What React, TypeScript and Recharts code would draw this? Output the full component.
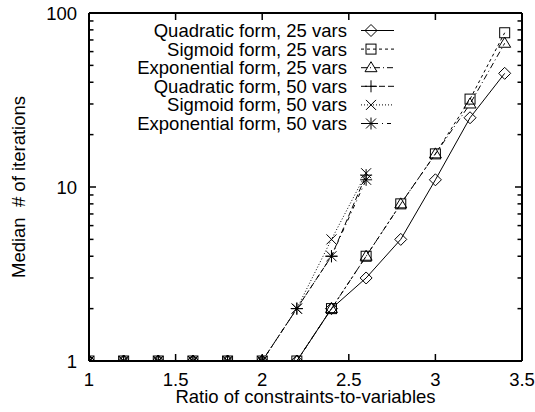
import React from 'react';
import { LineChart, Line, XAxis, YAxis, Legend, ReferenceLine } from 'recharts';

const ratios = [1, 1.2, 1.4, 1.6, 1.8, 2.0, 2.2, 2.4, 2.6, 2.8, 3.0, 3.2, 3.4];
const quad25 = [1, 1, 1, 1, 1, 1, 1, 2, 3, 5, 11, 25, 45];
const sig25 = [1, 1, 1, 1, 1, 1, 1, 2, 4, 8, 15.5, 32, 77];
const exp25 = [1, 1, 1, 1, 1, 1, 1, 2, 4, 8, 15.5, 30, 67];
const quad50 = [1, 1, 1, 1, 1, 1, 2, 4, 11.7];
const sig50 = [1, 1, 1, 1, 1, 1, 2, 5, 12];
const exp50 = [1, 1, 1, 1, 1, 1, 2, 4, 11];

const xTicks = [1, 1.5, 2, 2.5, 3, 3.5];
const yTicks = [1, 10, 100];
const yMinorTicks = [2, 3, 4, 5, 6, 7, 8, 9, 20, 30, 40, 50, 60, 70, 80, 90];

const X_MIN = 1;
const X_MAX = 3.5;
const Y_MIN = 1;
const Y_MAX = 100;

const MARGIN = { top: 13, right: 13, bottom: 0, left: 0 };

const FONT = '"Liberation Sans", Arial, Helvetica, sans-serif';
const FS = 18.5;

type Shape = 'diamond' | 'square' | 'triangle' | 'plus' | 'cross' | 'star';

const series: { key: string; name: string; values: number[]; dash?: string; shape: Shape }[] = [
  { key: 'q25', name: 'Quadratic form, 25 vars', values: quad25, dash: undefined, shape: 'diamond' },
  { key: 's25', name: 'Sigmoid form, 25 vars', values: sig25, dash: '3 3', shape: 'square' },
  { key: 'e25', name: 'Exponential form, 25 vars', values: exp25, dash: '6 3 1 3', shape: 'triangle' },
  { key: 'q50', name: 'Quadratic form, 50 vars', values: quad50, dash: '6 3', shape: 'plus' },
  { key: 's50', name: 'Sigmoid form, 50 vars', values: sig50, dash: '1 2', shape: 'cross' },
  { key: 'e50', name: 'Exponential form, 50 vars', values: exp50, dash: '4 4 1 4', shape: 'star' },
];

const data = ratios.map((r, i) => {
  const row: Record<string, number | undefined> = { ratio: r };
  series.forEach((s) => {
    row[s.key] = s.values[i];
  });
  return row;
});

const Marker = ({ shape, cx, cy }: { shape: Shape; cx: number; cy: number }) => {
  const p = { stroke: '#000', strokeWidth: 1, fill: 'none' };
  switch (shape) {
    case 'diamond':
      return <polygon {...p} points={`${cx},${cy - 6} ${cx + 6},${cy} ${cx},${cy + 6} ${cx - 6},${cy}`} />;
    case 'square':
      return <rect {...p} x={cx - 5} y={cy - 5} width={10} height={10} />;
    case 'triangle':
      return <polygon {...p} points={`${cx},${cy - 6} ${cx + 6},${cy + 4} ${cx - 6},${cy + 4}`} />;
    case 'plus':
      return (
        <g {...p}>
          <line x1={cx - 6} x2={cx + 6} y1={cy} y2={cy} />
          <line x1={cx} x2={cx} y1={cy - 6} y2={cy + 6} />
        </g>
      );
    case 'cross':
      return (
        <g {...p}>
          <line x1={cx - 5} x2={cx + 5} y1={cy - 5} y2={cy + 5} />
          <line x1={cx - 5} x2={cx + 5} y1={cy + 5} y2={cy - 5} />
        </g>
      );
    case 'star':
    default:
      return (
        <g {...p}>
          <line x1={cx - 6} x2={cx + 6} y1={cy} y2={cy} />
          <line x1={cx} x2={cx} y1={cy - 6} y2={cy + 6} />
          <line x1={cx - 5} x2={cx + 5} y1={cy - 5} y2={cy + 5} />
          <line x1={cx - 5} x2={cx + 5} y1={cy + 5} y2={cy - 5} />
        </g>
      );
  }
};

const makeDot = (shape: Shape) => (props: any) => {
  const { cx, cy, index } = props;
  const k = `${shape}-${index}`;
  if (cx == null || cy == null || Number.isNaN(cy) || props.value == null) return <g key={k} />;
  return (
    <g key={k}>
      <Marker shape={shape} cx={cx} cy={cy} />
    </g>
  );
};

const XTick = (props: any) => {
  const { x, y, payload } = props;
  return (
    <text x={x} y={y + 13} textAnchor="middle" fontSize={FS} fill="#000" fontFamily={FONT}>
      {String(payload.value)}
    </text>
  );
};

const YTick = (props: any) => {
  const { x, y, payload } = props;
  return (
    <text x={x} y={y + 6.5} textAnchor="end" fontSize={FS} fill="#000" fontFamily={FONT}>
      {String(payload.value)}
    </text>
  );
};

// x-axis title plus the inward tick marks of the frame (positions derived from the axis box and domains)
const XLabel = (props: any) => {
  const vb = props.viewBox || { x: 89, y: 361, width: 433, height: 51 };
  const left = vb.x;
  const right = vb.x + vb.width;
  const bottom = vb.y;
  const top = MARGIN.top;
  const sx = (v: number) => left + ((v - X_MIN) / (X_MAX - X_MIN)) * (right - left);
  const ly0 = Math.log10(Y_MIN);
  const ly1 = Math.log10(Y_MAX);
  const sy = (v: number) => bottom - ((Math.log10(v) - ly0) / (ly1 - ly0)) * (bottom - top);
  const st = { stroke: '#000', strokeWidth: 1.5 };
  return (
    <g>
      {xTicks.map((v) => (
        <g key={`x${v}`}>
          <line {...st} x1={sx(v)} x2={sx(v)} y1={bottom} y2={bottom - 7} />
          <line {...st} x1={sx(v)} x2={sx(v)} y1={top} y2={top + 7} />
        </g>
      ))}
      {yTicks.map((v) => (
        <g key={`Y${v}`}>
          <line {...st} x1={left} x2={left + 7} y1={sy(v)} y2={sy(v)} />
          <line {...st} x1={right - 7} x2={right} y1={sy(v)} y2={sy(v)} />
        </g>
      ))}
      {yMinorTicks.map((v) => (
        <g key={`y${v}`}>
          <line {...st} x1={left} x2={left + 4.5} y1={sy(v)} y2={sy(v)} />
          <line {...st} x1={right - 4.5} x2={right} y1={sy(v)} y2={sy(v)} />
        </g>
      ))}
      <text x={vb.x + vb.width / 2} y={vb.y + 42} textAnchor="middle" fontSize={FS} fill="#000" fontFamily={FONT}>
        Ratio of constraints-to-variables
      </text>
    </g>
  );
};

const YLabel = (props: any) => {
  const vb = props.viewBox || { x: 0, y: 13, width: 89, height: 348 };
  const x = vb.x + 25;
  const cy = vb.y + vb.height / 2;
  return (
    <text
      x={x}
      y={cy}
      transform={`rotate(-90 ${x} ${cy})`}
      textAnchor="middle"
      fontSize={FS}
      fill="#000"
      fontFamily={FONT}
      style={{ whiteSpace: 'pre' }}
    >
      {'Median  # of iterations'}
    </text>
  );
};

const LegendBox = () => (
  <svg width={535} height={140} style={{ display: 'block' }}>
    {series.map((s, i) => {
      const y = 30.5 + i * 18.6;
      return (
        <g key={s.key}>
          <text x={347} y={y + 6.5} textAnchor="end" fontSize={FS} fill="#000" fontFamily={FONT}>
            {s.name}
          </text>
          <line x1={361} x2={394} y1={y} y2={y} stroke="#000" strokeWidth={1} strokeDasharray={s.dash} />
          <Marker shape={s.shape} cx={371} cy={y} />
        </g>
      );
    })}
  </svg>
);

const border = { stroke: '#000', strokeWidth: 2 };

export default function App() {
  return (
    <div style={{ position: 'absolute', left: 0, top: 0, width: 535, height: 412, background: '#fff' }}>
      <LineChart width={535} height={412} data={data} margin={MARGIN} style={{ fontFamily: FONT }}>
        <XAxis
          xAxisId="main"
          dataKey="ratio"
          type="number"
          domain={[X_MIN, X_MAX]}
          ticks={xTicks}
          interval={0}
          allowDataOverflow
          height={51}
          tickLine={false}
          tickSize={6}
          tickMargin={6}
          axisLine={border}
          tick={<XTick />}
          label={<XLabel />}
        />
        <YAxis
          yAxisId="main"
          type="number"
          scale="log"
          domain={[Y_MIN, Y_MAX]}
          ticks={yTicks}
          interval={0}
          allowDataOverflow
          width={89}
          tickLine={false}
          tickSize={6}
          tickMargin={6}
          axisLine={border}
          tick={<YTick />}
          label={<YLabel />}
        />
        <ReferenceLine xAxisId="main" yAxisId="main" y={Y_MAX} stroke="#000" strokeWidth={2} ifOverflow="visible" />
        <ReferenceLine xAxisId="main" yAxisId="main" x={X_MAX} stroke="#000" strokeWidth={2} ifOverflow="visible" />
        <Legend
          layout="vertical"
          align="center"
          verticalAlign="middle"
          wrapperStyle={{ top: 0, left: 0, width: 535, height: 140 }}
          content={() => <LegendBox />}
        />
        {series.map((s) => (
          <Line
            key={s.key}
            xAxisId="main"
            yAxisId="main"
            dataKey={s.key}
            name={s.name}
            type="linear"
            stroke="#000"
            strokeWidth={1}
            strokeDasharray={s.dash}
            dot={makeDot(s.shape)}
            activeDot={false}
            isAnimationActive={false}
          />
        ))}
      </LineChart>
    </div>
  );
}
